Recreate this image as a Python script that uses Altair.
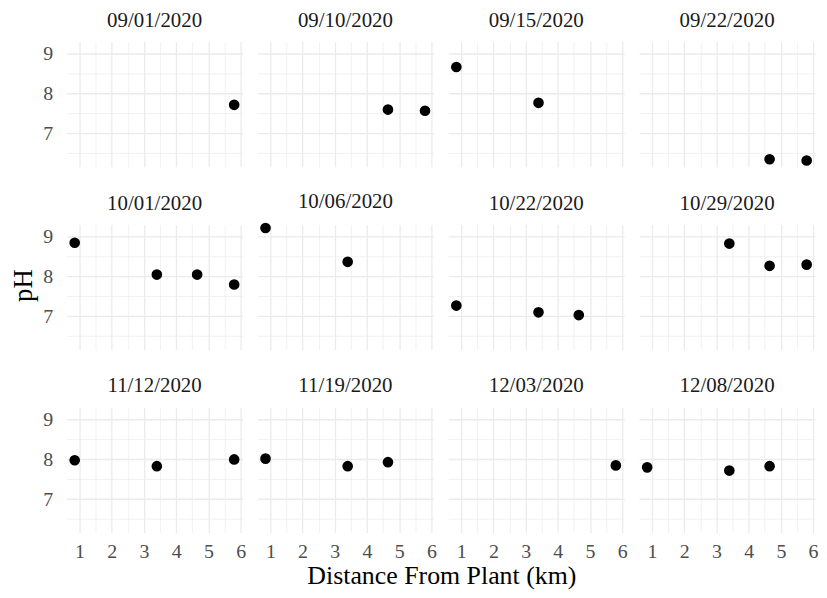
import altair as alt
import pandas as pd

dates = ["09/01/2020", "09/10/2020", "09/15/2020", "09/22/2020",
         "10/01/2020", "10/06/2020", "10/22/2020", "10/29/2020",
         "11/12/2020", "11/19/2020", "12/03/2020", "12/08/2020"]

point_date = ["09/01/2020",
              "09/10/2020", "09/10/2020",
              "09/15/2020", "09/15/2020",
              "09/22/2020", "09/22/2020",
              "10/01/2020", "10/01/2020", "10/01/2020", "10/01/2020",
              "10/06/2020", "10/06/2020",
              "10/22/2020", "10/22/2020", "10/22/2020",
              "10/29/2020", "10/29/2020", "10/29/2020",
              "11/12/2020", "11/12/2020", "11/12/2020",
              "11/19/2020", "11/19/2020", "11/19/2020",
              "12/03/2020",
              "12/08/2020", "12/08/2020", "12/08/2020"]
distance_km = [5.8,
               4.65, 5.8,
               0.85, 3.4,
               4.65, 5.8,
               0.85, 3.4, 4.65, 5.8,
               0.85, 3.4,
               0.85, 3.4, 4.65,
               3.4, 4.65, 5.8,
               0.85, 3.4, 5.8,
               0.85, 3.4, 4.65,
               5.8,
               0.85, 3.4, 4.65]
ph_values = [7.72,
             7.60, 7.57,
             8.67, 7.77,
             6.35, 6.32,
             8.85, 8.05, 8.05, 7.80,
             9.22, 8.37,
             7.27, 7.10, 7.03,
             8.83, 8.27, 8.30,
             7.98, 7.83, 8.00,
             8.02, 7.83, 7.93,
             7.85,
             7.80, 7.72, 7.83]

x_grid = [1, 1.5, 2, 2.5, 3, 3.5, 4, 4.5, 5, 5.5, 6]
y_grid = [6.5, 7, 7.5, 8, 8.5, 9]

df = pd.DataFrame({"date": point_date, "distance": distance_km, "ph": ph_values})

FONT = "Liberation Serif"
grid_width = {"condition": {"test": "datum.value % 1 === 0", "value": 1.3}, "value": 0.7}
int_labels = "datum.value % 1 === 0 ? format(datum.value, 'd') : ''"

base = alt.Chart(df).mark_point(filled=True, color="black", opacity=1, size=115).encode(
    x=alt.X("distance:Q", title=None,
            scale=alt.Scale(domain=[0.6, 6.06], nice=False, zero=False),
            axis=alt.Axis(values=x_grid, labelExpr=int_labels, gridWidth=grid_width,
                          labelPadding=9)),
    y=alt.Y("ph:Q", title=None,
            scale=alt.Scale(domain=[6.16, 9.31], nice=False, zero=False),
            axis=alt.Axis(values=y_grid, labelExpr=int_labels, gridWidth=grid_width,
                          labelPadding=14)),
).properties(width=177, height=126)

facet_chart = base.facet(
    facet=alt.Facet("date:N", sort=dates, title=None,
                    header=alt.Header(labelFont=FONT, labelFontSize=21, labelColor="#1a1a1a",
                                      labelPadding=11)),
    columns=4,
    spacing={"row": 58, "column": 15},
    bounds="flush",
).properties(
    title=alt.TitleParams("pH", orient="left", anchor="middle", font=FONT, fontSize=27,
                          fontWeight="normal", color="#000000", offset=5)
)

chart = alt.vconcat(facet_chart).properties(
    title=alt.TitleParams("Distance From Plant (km)", orient="bottom", anchor="middle",
                          font=FONT, fontSize=26, fontWeight="normal", color="#000000",
                          offset=2, dx=28),
    background="white",
    padding={"left": 2, "top": 0, "right": 0, "bottom": 0},
).configure_view(stroke=None).configure_axis(
    domain=False, ticks=False, grid=True, gridColor="#ebebeb",
    labelFont=FONT, labelFontSize=20, labelColor="#4d4d4d",
)

chart.save("out.html", embed_options={"renderer": "svg", "actions": False})
